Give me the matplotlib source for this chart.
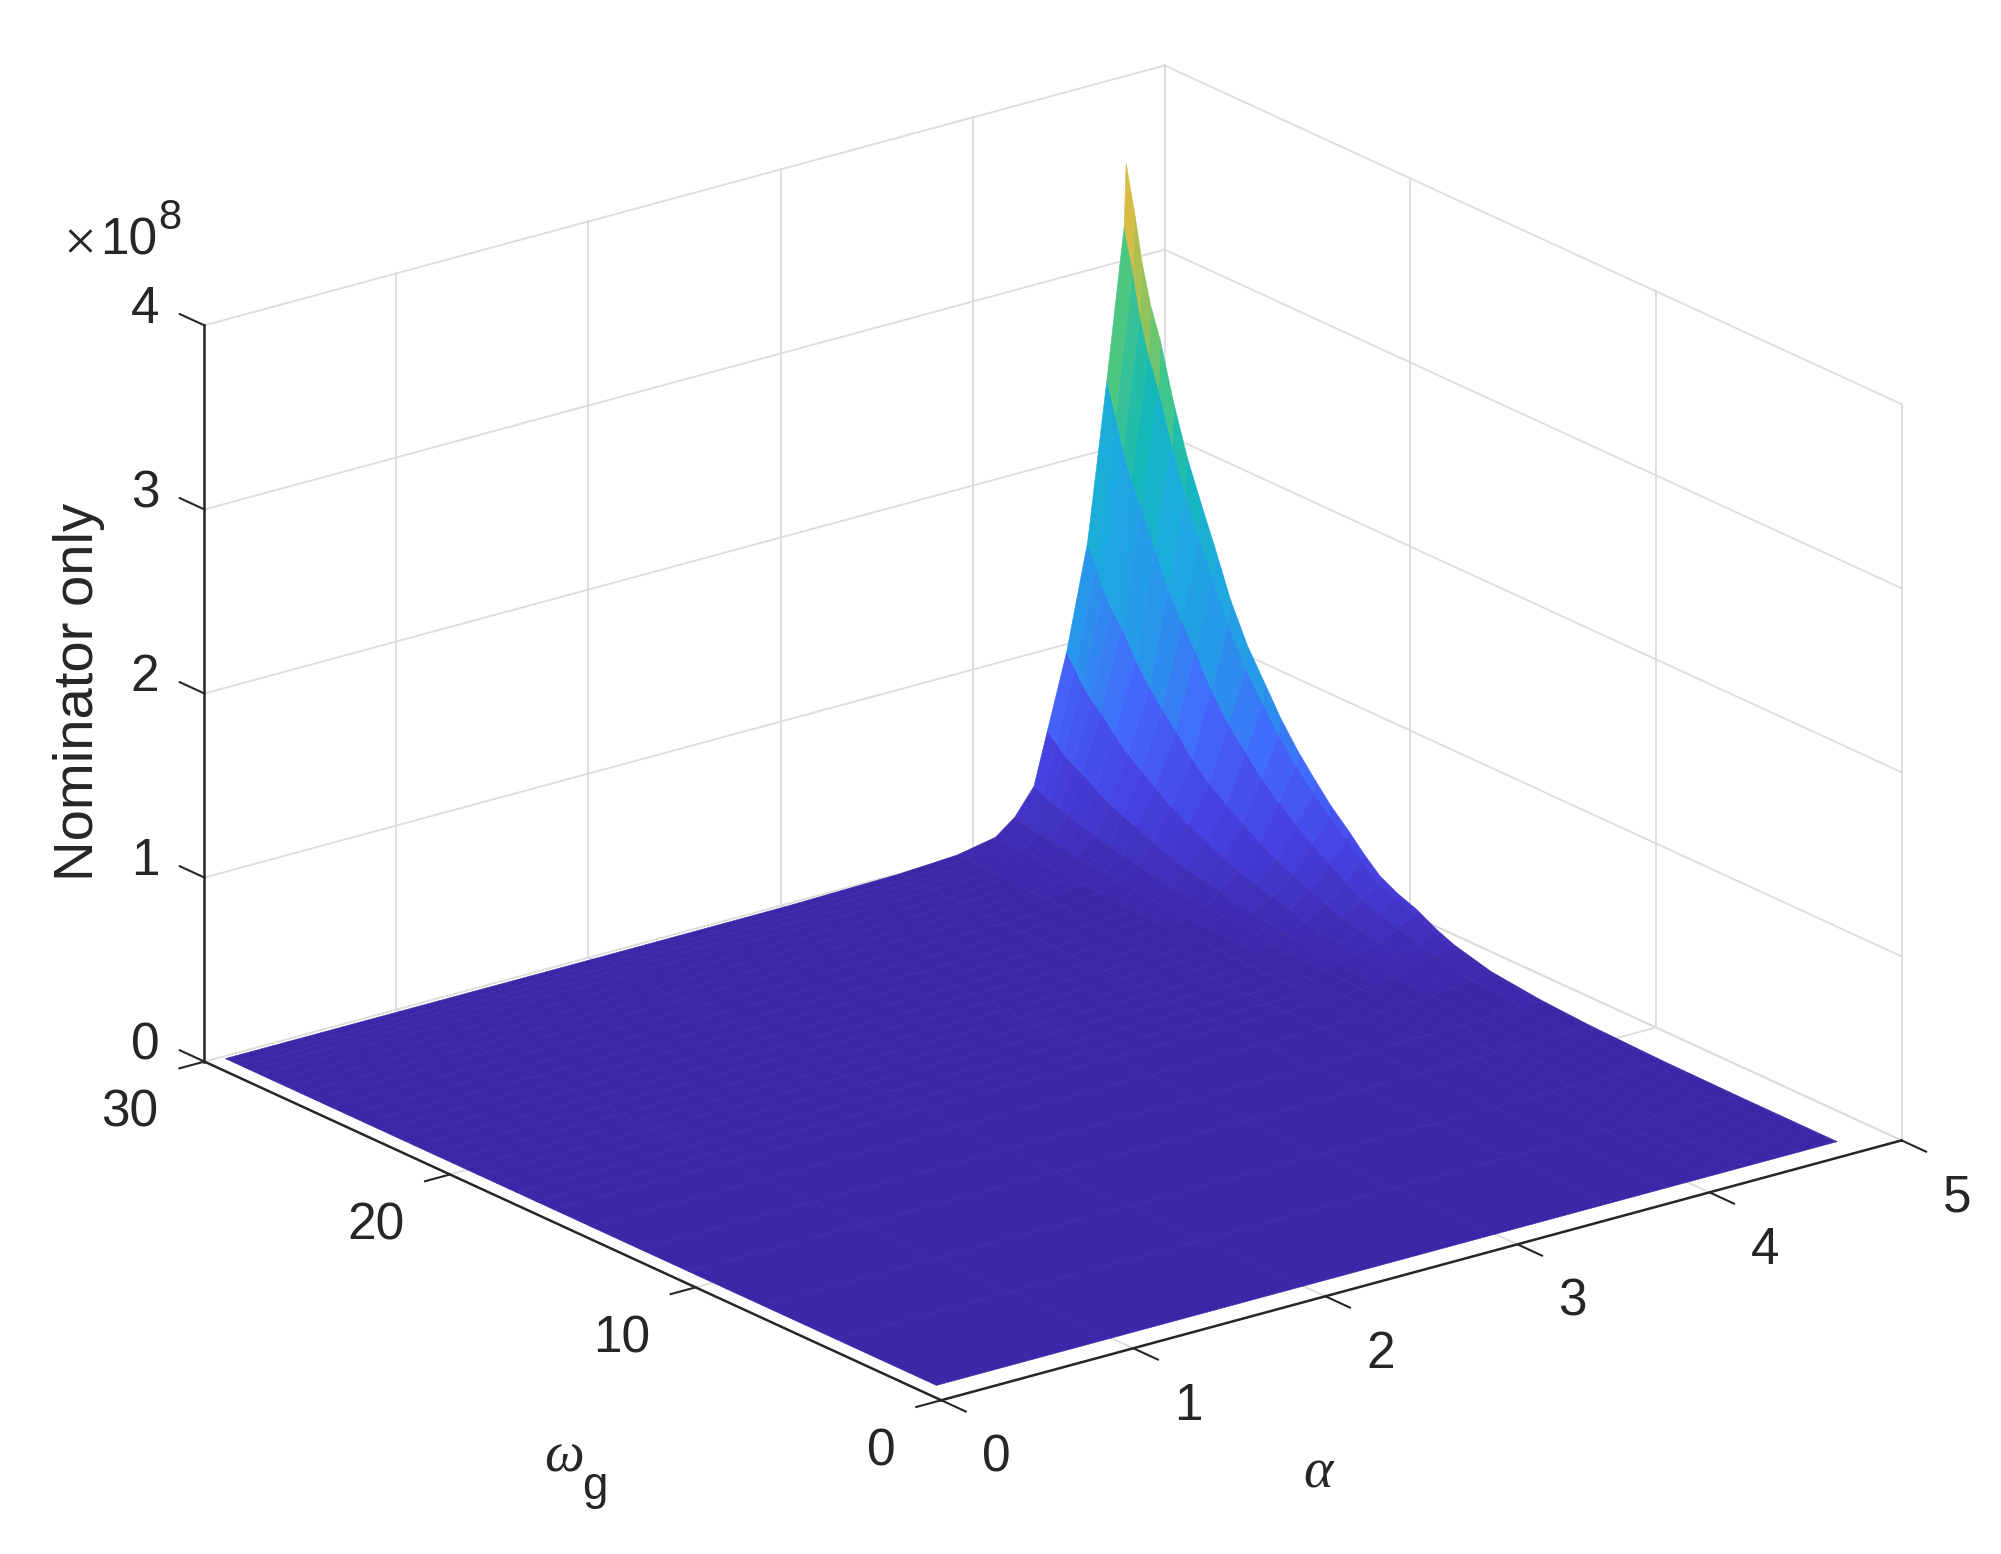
import numpy as np
import matplotlib
matplotlib.use('Agg')
import matplotlib.pyplot as plt
from matplotlib.colors import LinearSegmentedColormap
from mpl_toolkits.mplot3d import proj3d
from mpl_toolkits.mplot3d.art3d import Poly3DCollection

plt.rcParams['font.family'] = ['Liberation Sans', 'DejaVu Sans']

# values, z in units of 1e8
alpha = [0.09, 1, 2, 3, 3.6, 3.9, 4.10, 4.20, 4.30, 4.37, 4.47, 4.58, 4.68, 4.77, 4.78]
omega = [0.9, 5, 8, 11, 13, 15, 16.5, 17.2, 18, 18.8, 19.5, 20.15, 20.8, 21.5, 22.15, 22.85, 23.55, 24.2,
         24.9, 25.6, 26.25, 26.8, 27.35, 27.9, 28.45, 28.85, 29.2, 29.5, 29.85]
nominator = [
    [0, 0, 0, 0, 0, 0, 0, 0, 0, 0, 0, 0, 0, 0, 0],
    [0, 0, 0, 0, 0, 0, 0, 0, 0, 0, 0, 0.0001, 0.0002, 0.0002, 0.0003],
    [0, 0, 0, 0, 0, 0, 0, 0.0001, 0.0002, 0.0003, 0.0006, 0.001, 0.0015, 0.0024, 0.0035],
    [0, 0, 0, 0, 0, 0.0001, 0.0003, 0.0006, 0.0012, 0.0023, 0.004, 0.006, 0.010, 0.013, 0.014],
    [0, 0, 0, 0, 0.0001, 0.0003, 0.0006, 0.0013, 0.0025, 0.005, 0.008, 0.013, 0.020, 0.027, 0.03],
    [0, 0, 0, 0, 0.0002, 0.0005, 0.0012, 0.0026, 0.005, 0.010, 0.016, 0.026, 0.041, 0.054, 0.06],
    [0, 0, 0, 0.0001, 0.0004, 0.001, 0.002, 0.005, 0.009, 0.018, 0.031, 0.049, 0.076, 0.102, 0.113],
    [0, 0, 0, 0.0001, 0.0005, 0.0013, 0.003, 0.0065, 0.0125, 0.0245, 0.042, 0.066, 0.103, 0.138, 0.152],
    [0, 0, 0, 0.0001, 0.0007, 0.0018, 0.004, 0.009, 0.017, 0.034, 0.057, 0.091, 0.141, 0.189, 0.21],
    [0, 0, 0, 0.0001, 0.0009, 0.0021, 0.005, 0.011, 0.021, 0.040, 0.069, 0.109, 0.170, 0.227, 0.251],
    [0, 0, 0, 0.0002, 0.001, 0.0026, 0.006, 0.013, 0.025, 0.048, 0.082, 0.131, 0.203, 0.272, 0.30],
    [0, 0, 0, 0.0002, 0.0013, 0.0032, 0.0075, 0.016, 0.031, 0.061, 0.104, 0.165, 0.256, 0.342, 0.379],
    [0, 0, 0, 0.0003, 0.0016, 0.004, 0.009, 0.020, 0.039, 0.076, 0.129, 0.205, 0.318, 0.426, 0.47],
    [0, 0, 0, 0.0003, 0.0019, 0.0047, 0.011, 0.024, 0.046, 0.090, 0.153, 0.243, 0.378, 0.506, 0.559],
    [0, 0, 0, 0.0004, 0.002, 0.006, 0.013, 0.028, 0.054, 0.106, 0.180, 0.286, 0.445, 0.595, 0.66],
    [0, 0, 0, 0.0004, 0.0026, 0.0066, 0.015, 0.033, 0.064, 0.125, 0.212, 0.337, 0.523, 0.701, 0.775],
    [0, 0, 0, 0.0005, 0.003, 0.008, 0.018, 0.039, 0.075, 0.146, 0.249, 0.396, 0.614, 0.822, 0.91],
    [0, 0, 0, 0.0006, 0.0036, 0.009, 0.021, 0.045, 0.087, 0.170, 0.290, 0.460, 0.715, 0.957, 1.06],
    [0, 0, 0, 0.0007, 0.004, 0.010, 0.024, 0.052, 0.100, 0.197, 0.335, 0.531, 0.825, 1.10, 1.22],
    [0, 0, 0, 0.0008, 0.0049, 0.012, 0.028, 0.061, 0.117, 0.231, 0.393, 0.624, 0.968, 1.30, 1.43],
    [0, 0, 0, 0.001, 0.006, 0.014, 0.033, 0.071, 0.138, 0.271, 0.461, 0.732, 1.14, 1.52, 1.68],
    [0, 0, 0.0001, 0.0011, 0.0064, 0.016, 0.037, 0.080, 0.154, 0.302, 0.514, 0.816, 1.27, 1.70, 1.88],
    [0, 0, 0.0001, 0.0012, 0.007, 0.018, 0.041, 0.089, 0.171, 0.336, 0.572, 0.909, 1.41, 1.89, 2.09],
    [0, 0, 0.0001, 0.0013, 0.008, 0.020, 0.047, 0.100, 0.193, 0.379, 0.645, 1.02, 1.59, 2.13, 2.35],
    [0, 0, 0.0001, 0.0015, 0.009, 0.022, 0.053, 0.113, 0.218, 0.428, 0.728, 1.16, 1.79, 2.40, 2.66],
    [0, 0, 0.0001, 0.0016, 0.0096, 0.024, 0.056, 0.120, 0.232, 0.456, 0.776, 1.23, 1.91, 2.56, 2.83],
    [0, 0, 0.0001, 0.002, 0.010, 0.026, 0.060, 0.129, 0.249, 0.490, 0.834, 1.32, 2.06, 2.75, 3.04],
    [0, 0, 0.0001, 0.0019, 0.011, 0.028, 0.065, 0.140, 0.270, 0.530, 0.902, 1.43, 2.22, 2.98, 3.29],
    [0, 0, 0.0001, 0.002, 0.012, 0.03, 0.07, 0.15, 0.29, 0.57, 0.97, 1.54, 2.39, 3.2, 3.54],
]
alpha_ticks = [0, 1, 2, 3, 4, 5]
omega_ticks = [0, 10, 20, 30]
z_ticks = [0, 1, 2, 3, 4]

parula = LinearSegmentedColormap.from_list('parula', [
    (0.00, (0.2422, 0.1504, 0.6603)), (0.08, (0.2757, 0.2620, 0.8996)),
    (0.16, (0.2647, 0.4030, 0.9935)), (0.25, (0.1540, 0.5902, 0.9218)),
    (0.38, (0.1085, 0.6669, 0.8734)), (0.50, (0.0689, 0.7196, 0.7278)),
    (0.62, (0.2800, 0.7800, 0.5200)), (0.75, (0.6200, 0.7600, 0.3300)),
    (0.88, (0.9300, 0.7300, 0.2500)), (0.95, (0.9800, 0.8000, 0.1800)),
    (1.00, (0.9769, 0.9839, 0.0805))])

grid_c = '#dcdcdc'
axis_c = '#262626'

fig = plt.figure(figsize=(20.01, 15.54), dpi=100)
ax = fig.add_axes([0.0127, -0.133, 1, 1.288], projection='3d', computed_zorder=False)
ax.set_proj_type('ortho')
ax.view_init(elev=20.65, azim=-127.5)
ax.set_box_aspect((1, 1, 0.65), zoom=0.914)
ax.set_xlim(0, 5)
ax.set_ylim(0, 30)
ax.set_zlim(0, 4)
ax.set_axis_off()


def tick_label(a, w, z, s, ha):
    x, y, _ = proj3d.proj_transform(a, w, z, ax.get_proj())
    ax.text2D(x, y, s, transform=ax.transData, fontsize=37, color=axis_c, ha=ha, va='center')


# back walls and floor
for a in alpha_ticks[1:]:
    ax.plot([a, a], [30, 30], [0, 4], color=grid_c, lw=1.3, zorder=1)
    ax.plot([a, a], [0, 30], [0, 0], color=grid_c, lw=1.3, zorder=1)
for w in omega_ticks[:-1]:
    ax.plot([5, 5], [w, w], [0, 4], color=grid_c, lw=1.3, zorder=1)
    ax.plot([0, 5], [w, w], [0, 0], color=grid_c, lw=1.3, zorder=1)
for z in z_ticks:
    ax.plot([0, 5], [30, 30], [z, z], color=grid_c, lw=1.3, zorder=1)
    ax.plot([5, 5], [0, 30], [z, z], color=grid_c, lw=1.3, zorder=1)

# surface, each cell coloured from its first corner like matlab does
quads = []
cols = []
for i in range(len(omega) - 1):
    for j in range(len(alpha) - 1):
        quads.append([(alpha[j], omega[i], nominator[i][j]),
                      (alpha[j + 1], omega[i], nominator[i][j + 1]),
                      (alpha[j + 1], omega[i + 1], nominator[i + 1][j + 1]),
                      (alpha[j], omega[i + 1], nominator[i + 1][j])])
        cols.append(parula(nominator[i][j] / 3.54))
surf = Poly3DCollection(quads, facecolors=cols, edgecolors=cols, linewidths=0.4, zorder=2)
ax.add_collection3d(surf, autolim=False)

# axes
ax.plot([0, 5], [0, 0], [0, 0], color=axis_c, lw=1.8, zorder=3)
ax.plot([0, 0], [0, 30], [0, 0], color=axis_c, lw=1.8, zorder=3)
ax.plot([0, 0], [30, 30], [0, 4], color=axis_c, lw=1.8, zorder=3)
for a in alpha_ticks:
    ax.plot([a, a], [0, -1], [0, 0], color=axis_c, lw=1.5, zorder=3)
    tick_label(a - 0.233, -4.07, 0, str(a), 'center')
for w in omega_ticks:
    ax.plot([0, -0.13], [w, w], [0, 0], color=axis_c, lw=1.5, zorder=3)
    tick_label(-0.52, w - 2.2, 0, str(w), 'right')
for z in z_ticks:
    ax.plot([0, 0], [30, 31], [z, z], color=axis_c, lw=1.5, zorder=3)
    tick_label(-0.234, 30, z + 0.152, str(z), 'right')

fig.text(79 / 2001, 1 - 692 / 1554, 'Nominator only', fontsize=40.5, color=axis_c, rotation=90, ha='center', va='center')
fig.text(80 / 2001, 1 - 246 / 1554, '\u00d7', fontsize=42, family='Liberation Serif', color=axis_c, ha='center', va='center')
fig.text(129 / 2001, 1 - 241 / 1554, '10', fontsize=37, color=axis_c, ha='center', va='center')
fig.text(170 / 2001, 1 - 218 / 1554, '8', fontsize=30, color=axis_c, ha='center', va='center')
fig.text(1318 / 2001, 1 - 1474 / 1554, '\u03b1', fontsize=40.5, family='Liberation Serif', style='italic', color=axis_c, ha='center', va='center')
fig.text(564 / 2001, 1 - 1458 / 1554, '\u03c9', fontsize=40.5, family='Liberation Serif', style='italic', color=axis_c, ha='center', va='center')
fig.text(595 / 2001, 1 - 1487 / 1554, 'g', fontsize=33, color=axis_c, ha='center', va='center')

fig.savefig('out.png', dpi=100)
